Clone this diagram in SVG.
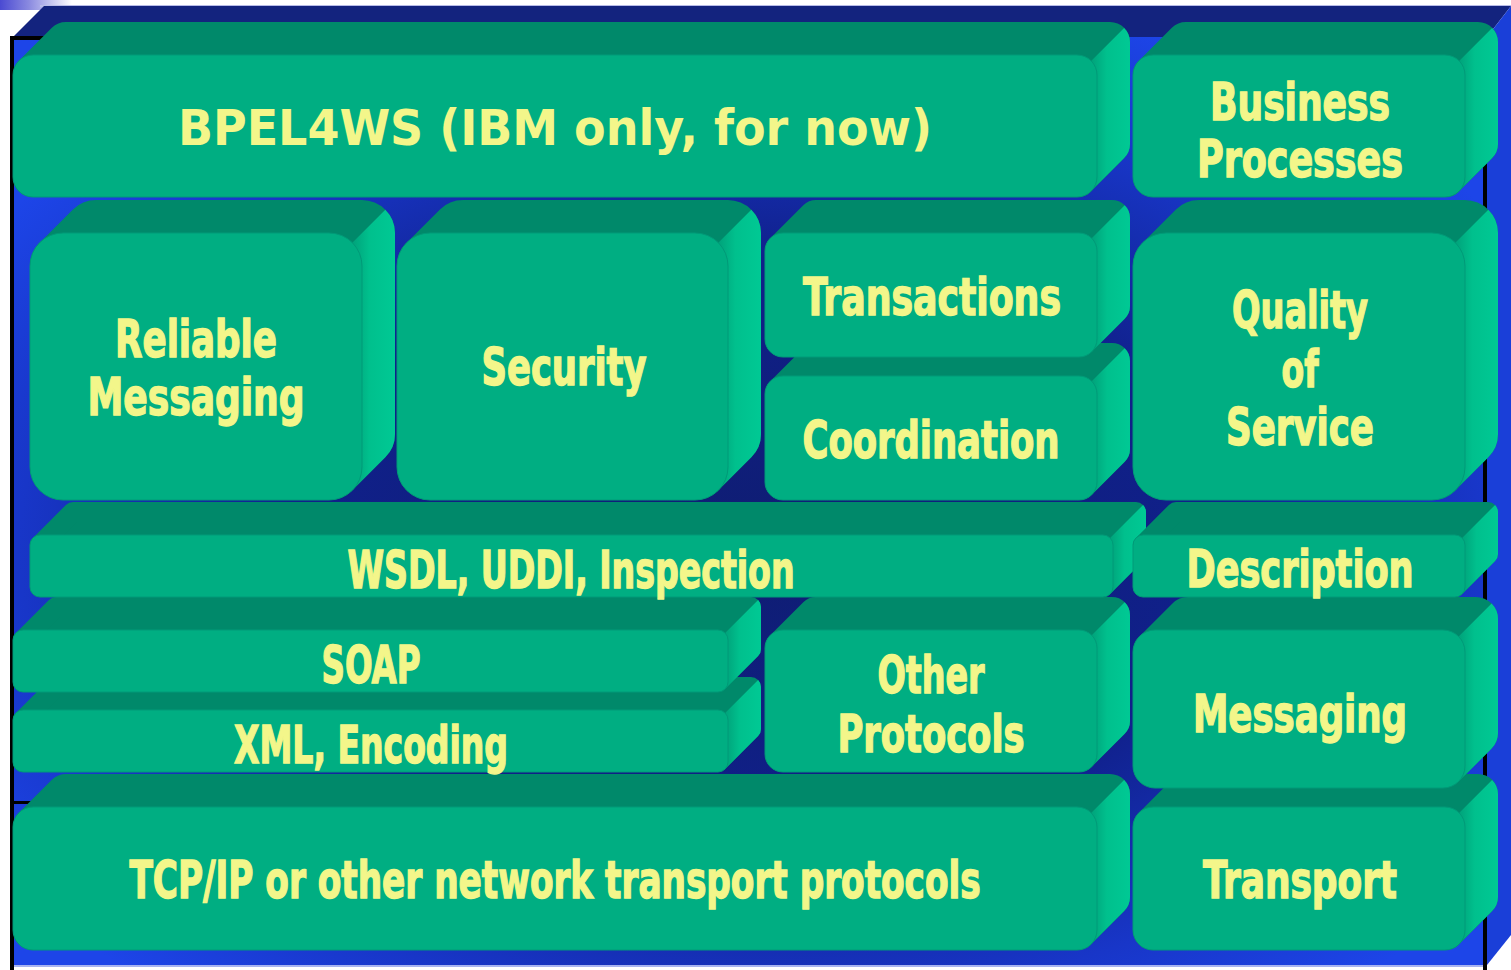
<svg xmlns="http://www.w3.org/2000/svg" width="1511" height="970" viewBox="0 0 1511 970">
<defs>
<linearGradient id="strip" x1="0" y1="0" x2="1" y2="0">
<stop offset="0" stop-color="#4a4ad2"/><stop offset="0.4" stop-color="#8a8ae0"/><stop offset="1" stop-color="#ffffff"/>
</linearGradient>
<radialGradient id="bg" cx="0.5" cy="0.55" r="0.62">
<stop offset="0" stop-color="#0f1d72"/><stop offset="0.5" stop-color="#10208a"/><stop offset="0.8" stop-color="#1836c8"/><stop offset="1" stop-color="#1d45e8"/>
</radialGradient>
<linearGradient id="sideG" x1="0" y1="0" x2="1" y2="0">
<stop offset="0" stop-color="#00a27a"/><stop offset="0.4" stop-color="#00c08d"/><stop offset="1" stop-color="#00c994"/>
</linearGradient>
<style>
.top{fill:#00896a;stroke:#00896a;stroke-linejoin:round}
.side{fill:url(#sideG)}
.front{fill:#00ae82;stroke:#009a78;stroke-width:1}
.t{font-family:'DejaVu Sans Condensed','Liberation Sans Narrow','Liberation Sans',sans-serif;font-weight:bold;font-size:52px;fill:#f3f68a;stroke:#f3f68a;stroke-width:1.4;text-anchor:middle}
.tb{font-family:'DejaVu Sans','Liberation Sans',sans-serif;font-weight:bold;font-size:49px;fill:#f3f68a;text-anchor:middle}
</style>
</defs>
<rect width="1511" height="970" fill="#ffffff"/>
<g id="frame">
<rect x="0" y="0" width="72" height="10" fill="url(#strip)"/>
<rect x="40" y="5" width="1471" height="2" fill="#b8bce8"/>
<polygon points="13,37 44,6 1511,6 1487,37" fill="#13237e"/>
<polygon points="1487,37 1511,6 1511,935 1487,965" fill="#1a3fd8"/>
<rect x="13" y="37" width="1474" height="929" fill="url(#bg)"/>
<rect x="13" y="965" width="1474" height="2" fill="#a8b4f0"/>
<rect x="10" y="36" width="4" height="934" fill="#000"/>
<rect x="10" y="36" width="36" height="4" fill="#000"/>
<rect x="1483" y="36" width="4" height="934" fill="#000"/>
<rect x="10" y="801" width="34" height="3" fill="#000"/>
</g>
<g id="connectors"/>
<g id="tcp">
<polygon class="top" stroke-width="40" points="33,827 66,794 1110,794 1110,897 1077,930 33,930"/>
<path class="side" d="M1091.1,812.9 L1124.1,779.9 A20,20 0 0 1 1130,794 L1130,897 A20,20 0 0 1 1124.1,911.1 L1091.1,944.1 Z"/>
<rect class="front" x="13" y="807" width="1084" height="143" rx="20"/>
<text class="t" transform="translate(555,898) scale(0.7,1)" x="0" y="0" textLength="1216" lengthAdjust="spacingAndGlyphs">TCP/IP or other network transport protocols</text>
</g>
<g id="transport">
<polygon class="top" stroke-width="40" points="1153,827 1186,794 1478,794 1478,897 1445,930 1153,930"/>
<path class="side" d="M1459.1,812.9 L1492.1,779.9 A20,20 0 0 1 1498,794 L1498,897 A20,20 0 0 1 1492.1,911.1 L1459.1,944.1 Z"/>
<rect class="front" x="1133" y="807" width="332" height="143" rx="20"/>
<text class="t" x="1300" y="898" textLength="194" lengthAdjust="spacingAndGlyphs">Transport</text>
</g>
<g id="xml">
<polygon class="top" stroke-width="20" points="23,720 56,687 751,687 751,729 718,762 23,762"/>
<path class="side" d="M725.1,712.9 L758.1,679.9 A10,10 0 0 1 761,687 L761,729 A10,10 0 0 1 758.1,736.1 L725.1,769.1 Z"/>
<rect class="front" x="13" y="710" width="715" height="62" rx="10"/>
<text class="t" x="371" y="763" textLength="274" lengthAdjust="spacingAndGlyphs">XML, Encoding</text>
</g>
<g id="soap">
<polygon class="top" stroke-width="20" points="23,640 56,607 751,607 751,649 718,682 23,682"/>
<path class="side" d="M725.1,632.9 L758.1,599.9 A10,10 0 0 1 761,607 L761,649 A10,10 0 0 1 758.1,656.1 L725.1,689.1 Z"/>
<rect class="front" x="13" y="630" width="715" height="62" rx="10"/>
<text class="t" x="371" y="683" textLength="99" lengthAdjust="spacingAndGlyphs">SOAP</text>
</g>
<g id="other">
<polygon class="top" stroke-width="36" points="783,648 816,615 1112,615 1112,721 1079,754 783,754"/>
<path class="side" d="M1091.7,635.3 L1124.7,602.3 A18,18 0 0 1 1130,615 L1130,721 A18,18 0 0 1 1124.7,733.7 L1091.7,766.7 Z"/>
<rect class="front" x="765" y="630" width="332" height="142" rx="18"/>
<text class="t" x="931" y="693" textLength="107" lengthAdjust="spacingAndGlyphs">Other</text>
<text class="t" x="931" y="752" textLength="187" lengthAdjust="spacingAndGlyphs">Protocols</text>
</g>
<g id="messaging">
<polygon class="top" stroke-width="44" points="1155,652 1188,619 1476,619 1476,733 1443,766 1155,766"/>
<path class="side" d="M1458.6,636.4 L1491.6,603.4 A22,22 0 0 1 1498,619 L1498,733 A22,22 0 0 1 1491.6,748.6 L1458.6,781.6 Z"/>
<rect class="front" x="1133" y="630" width="332" height="158" rx="22"/>
<text class="t" x="1300" y="732" textLength="214" lengthAdjust="spacingAndGlyphs">Messaging</text>
</g>
<g id="wsdl">
<polygon class="top" stroke-width="20" points="40,545 73,512 1136,512 1136,554 1103,587 40,587"/>
<path class="side" d="M1110.1,537.9 L1143.1,504.9 A10,10 0 0 1 1146,512 L1146,554 A10,10 0 0 1 1143.1,561.1 L1110.1,594.1 Z"/>
<rect class="front" x="30" y="535" width="1083" height="62" rx="10"/>
<text class="t" x="571" y="588" textLength="447" lengthAdjust="spacingAndGlyphs">WSDL, UDDI, Inspection</text>
</g>
<g id="description">
<polygon class="top" stroke-width="20" points="1143,545 1176,512 1488,512 1488,554 1455,587 1143,587"/>
<path class="side" d="M1462.1,537.9 L1495.1,504.9 A10,10 0 0 1 1498,512 L1498,554 A10,10 0 0 1 1495.1,561.1 L1462.1,594.1 Z"/>
<rect class="front" x="1133" y="535" width="332" height="62" rx="10"/>
<text class="t" x="1300" y="587" textLength="227" lengthAdjust="spacingAndGlyphs">Description</text>
</g>
<g id="coordination">
<polygon class="top" stroke-width="36" points="783,394 816,361 1112,361 1112,449 1079,482 783,482"/>
<path class="side" d="M1091.7,381.3 L1124.7,348.3 A18,18 0 0 1 1130,361 L1130,449 A18,18 0 0 1 1124.7,461.7 L1091.7,494.7 Z"/>
<rect class="front" x="765" y="376" width="332" height="124" rx="18"/>
<text class="t" x="931" y="458" textLength="257" lengthAdjust="spacingAndGlyphs">Coordination</text>
</g>
<g id="transactions">
<polygon class="top" stroke-width="36" points="783,251 816,218 1112,218 1112,306 1079,339 783,339"/>
<path class="side" d="M1091.7,238.3 L1124.7,205.3 A18,18 0 0 1 1130,218 L1130,306 A18,18 0 0 1 1124.7,318.7 L1091.7,351.7 Z"/>
<rect class="front" x="765" y="233" width="332" height="124" rx="18"/>
<text class="t" x="932" y="315" textLength="258" lengthAdjust="spacingAndGlyphs">Transactions</text>
</g>
<g id="reliable">
<polygon class="top" stroke-width="66" points="63,266 96,233 362,233 362,434 329,467 63,467"/>
<path class="side" d="M352.3,242.7 L385.3,209.7 A33,33 0 0 1 395,233 L395,434 A33,33 0 0 1 385.3,457.3 L352.3,490.3 Z"/>
<rect class="front" x="30" y="233" width="332" height="267" rx="33"/>
<text class="t" x="196" y="357" textLength="162" lengthAdjust="spacingAndGlyphs">Reliable</text>
<text class="t" x="196" y="415" textLength="217" lengthAdjust="spacingAndGlyphs">Messaging</text>
</g>
<g id="security">
<polygon class="top" stroke-width="66" points="430,266 463,233 728,233 728,434 695,467 430,467"/>
<path class="side" d="M718.3,242.7 L751.3,209.7 A33,33 0 0 1 761,233 L761,434 A33,33 0 0 1 751.3,457.3 L718.3,490.3 Z"/>
<rect class="front" x="397" y="233" width="331" height="267" rx="33"/>
<text class="t" x="564" y="385" textLength="165" lengthAdjust="spacingAndGlyphs">Security</text>
</g>
<g id="quality">
<polygon class="top" stroke-width="66" points="1166,266 1199,233 1465,233 1465,434 1432,467 1166,467"/>
<path class="side" d="M1455.3,242.7 L1488.3,209.7 A33,33 0 0 1 1498,233 L1498,434 A33,33 0 0 1 1488.3,457.3 L1455.3,490.3 Z"/>
<rect class="front" x="1133" y="233" width="332" height="267" rx="33"/>
<text class="t" x="1300" y="328" textLength="136" lengthAdjust="spacingAndGlyphs">Quality</text>
<text class="t" x="1300" y="387" textLength="37" lengthAdjust="spacingAndGlyphs">of</text>
<text class="t" x="1300" y="445" textLength="148" lengthAdjust="spacingAndGlyphs">Service</text>
</g>
<g id="bpel">
<polygon class="top" stroke-width="40" points="33,75 66,42 1110,42 1110,144 1077,177 33,177"/>
<path class="side" d="M1091.1,60.9 L1124.1,27.9 A20,20 0 0 1 1130,42 L1130,144 A20,20 0 0 1 1124.1,158.1 L1091.1,191.1 Z"/>
<rect class="front" x="13" y="55" width="1084" height="142" rx="20"/>
<text class="tb" x="555" y="145" textLength="754" lengthAdjust="spacingAndGlyphs">BPEL4WS (IBM only, for now)</text>
</g>
<g id="business">
<polygon class="top" stroke-width="40" points="1153,75 1186,42 1478,42 1478,144 1445,177 1153,177"/>
<path class="side" d="M1459.1,60.9 L1492.1,27.9 A20,20 0 0 1 1498,42 L1498,144 A20,20 0 0 1 1492.1,158.1 L1459.1,191.1 Z"/>
<rect class="front" x="1133" y="55" width="332" height="142" rx="20"/>
<text class="t" x="1300" y="120" textLength="180" lengthAdjust="spacingAndGlyphs">Business</text>
<text class="t" x="1300" y="177" textLength="206" lengthAdjust="spacingAndGlyphs">Processes</text>
</g>
</svg>
